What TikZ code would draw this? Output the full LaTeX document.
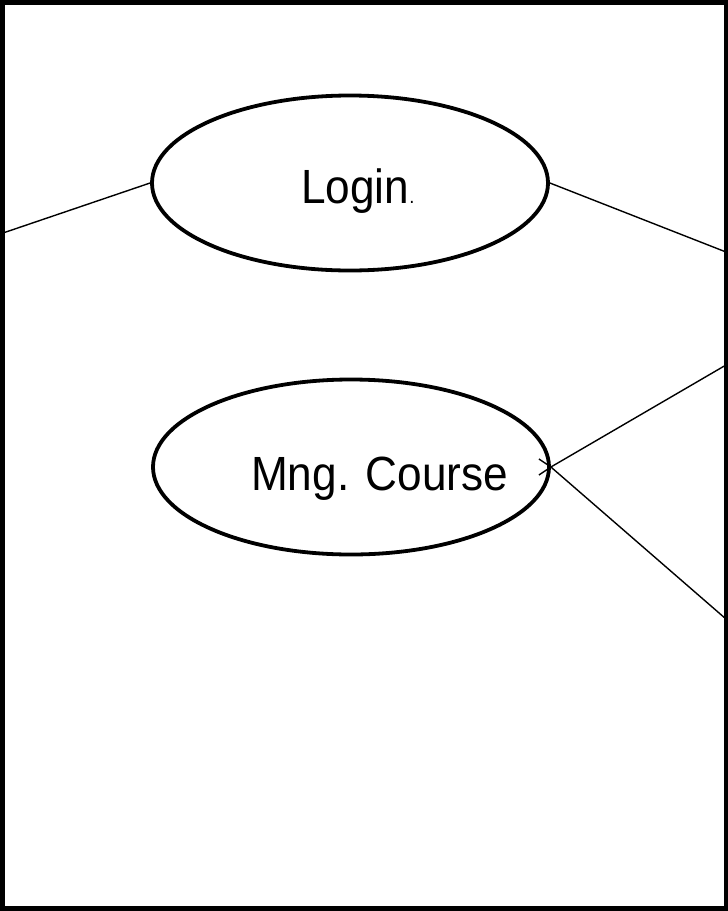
\documentclass[tikz,border=0pt]{standalone}
\usepackage{fontspec}
\setmainfont{Liberation Sans}[FakeStretch=0.92]
\usetikzlibrary{shapes.geometric,arrows.meta}
\begin{document}
\begin{tikzpicture}[x=1pt,y=-1pt,
  usecase/.style={draw,ellipse,line width=3.8pt,minimum width=396pt,minimum height=175pt,inner sep=0pt},
  lbl/.style={font=\fontsize{48}{52}\selectfont,inner sep=0pt,anchor=base west},
  conn/.style={line width=1.4pt}]
\useasboundingbox (0,0) rectangle (728,911);
\draw[line width=4.5pt] (2.3,2.6) rectangle (726,908.7);
\node[usecase] (login) at (350,183) {};
\node[usecase] (course) at (351,467) {};
\node[lbl] (logintxt) at (301,203) {Login{\fontsize{20}{20}\selectfont.}};
\node[lbl] (coursetxt) at (251,490) {Mng. Course};
\coordinate (a1) at (3,233);
\coordinate (a2) at (726,252);
\coordinate (a3) at (726,365);
\coordinate (a4) at (726,619);
\draw[conn] (a1) -- (login.west);
\draw[conn] (login.east) -- (a2);
\draw[conn] (course.east) -- (a3);
\draw[conn] (course.east) -- (a4);
\draw[conn] ([xshift=-12pt,yshift=-8pt]course.east) -- (course.east) -- ([xshift=-12pt,yshift=8pt]course.east);
\end{tikzpicture}
\end{document}
